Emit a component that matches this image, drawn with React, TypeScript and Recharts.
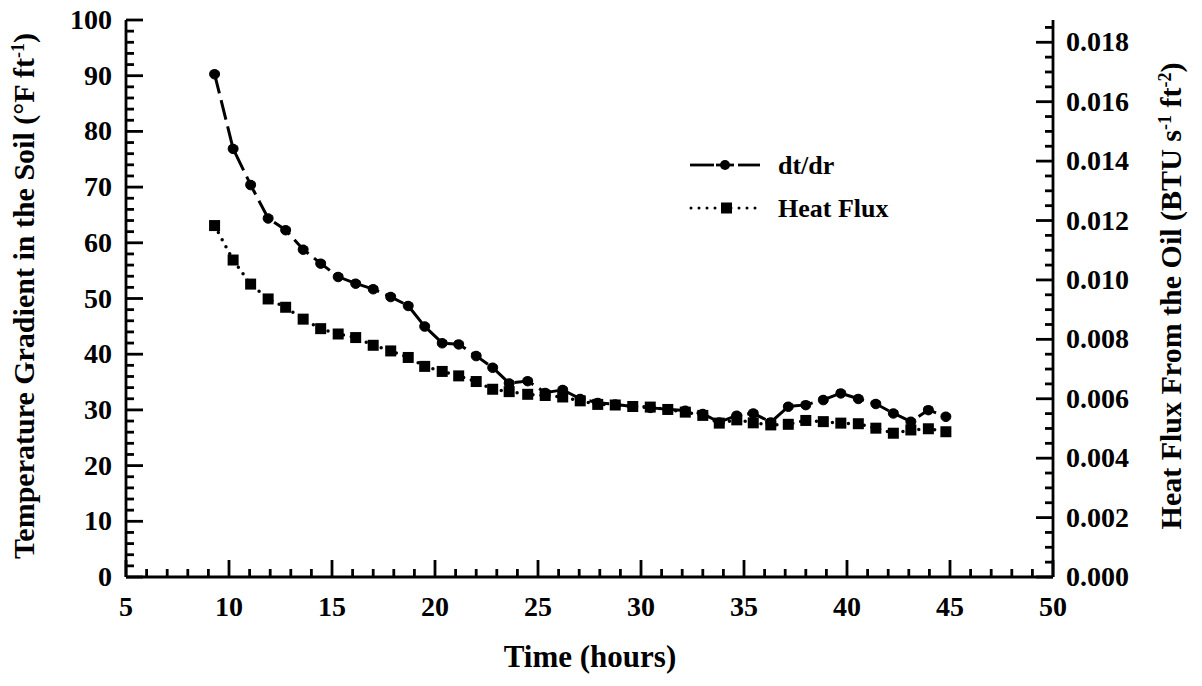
import React from 'react';
import { LineChart, Line, XAxis, YAxis, Legend } from 'recharts';

// Time (hours)
const times = [9.3, 10.2, 11.05, 11.9, 12.75, 13.6, 14.45, 15.3, 16.15, 17.0, 17.85, 18.7, 19.5, 20.35, 21.15, 22.0, 22.8, 23.6, 24.5, 25.35, 26.2, 27.05, 27.9, 28.75, 29.6, 30.45, 31.3, 32.15, 33.0, 33.8, 34.65, 35.45, 36.3, 37.15, 38.0, 38.85, 39.7, 40.55, 41.4, 42.25, 43.1, 43.95, 44.8];
// Temperature gradient dt/dr (°F ft-1), left axis
const dtdr = [90.3, 76.9, 70.4, 64.4, 62.3, 58.8, 56.3, 53.9, 52.7, 51.7, 50.3, 48.7, 45.0, 42.0, 41.8, 39.7, 37.6, 34.8, 35.2, 33.1, 33.6, 32.0, 31.3, 31.0, 30.6, 30.4, 30.1, 29.9, 29.3, 27.8, 29.0, 29.4, 27.8, 30.6, 30.9, 31.8, 33.0, 32.0, 31.1, 29.4, 27.9, 30.0, 28.8];
// Heat flux (BTU s-1 ft-2), right axis
const heatFlux = [0.01183, 0.01067, 0.00986, 0.00936, 0.00908, 0.00868, 0.00836, 0.00818, 0.00806, 0.0078, 0.00761, 0.00739, 0.00709, 0.00692, 0.00677, 0.00658, 0.00632, 0.00624, 0.00615, 0.00611, 0.00606, 0.00593, 0.00581, 0.00579, 0.00574, 0.00572, 0.00564, 0.00555, 0.00544, 0.00518, 0.00529, 0.00519, 0.00512, 0.00514, 0.00527, 0.00523, 0.00518, 0.00516, 0.00501, 0.00484, 0.00495, 0.00499, 0.00489];

const xMajor = [5, 10, 15, 20, 25, 30, 35, 40, 45, 50];
const leftMajor = [0, 10, 20, 30, 40, 50, 60, 70, 80, 90, 100];
const rightMajorLabels = ['0.000', '0.002', '0.004', '0.006', '0.008', '0.010', '0.012', '0.014', '0.016', '0.018'];

const data = times.map((t, i) => ({ t, dtdr: dtdr[i], hf: heatFlux[i] }));

const xAll: number[] = [];
for (let v = 5; v <= 50; v += 1) xAll.push(v);
const leftAll: number[] = [];
for (let v = 0; v <= 100; v += 2) leftAll.push(v);
const rightAll: number[] = [];
for (let i = 0; i <= 37; i++) rightAll.push(+(i * 0.0005).toFixed(4));

const FONT = '"Liberation Serif", "Times New Roman", serif';
const TICK_FS = 28;
const TITLE_FS = 30;
const MAJOR = 17;
const MINOR = 8;
const SW = 2.8;

const isMultiple = (v: number, step: number) => Math.abs(v / step - Math.round(v / step)) < 1e-6;

const BottomTick = (props: any) => {
  const { x, y, payload } = props;
  const major = isMultiple(payload.value, 5);
  return (
    <g>
      <line x1={x} x2={x} y1={y} y2={y - (major ? MAJOR : MINOR)} stroke="#000" strokeWidth={SW} />
      {major && (
        <text x={x} y={y + 39} textAnchor="middle" fontFamily={FONT} fontWeight="bold" fontSize={TICK_FS} fill="#000">
          {payload.value}
        </text>
      )}
    </g>
  );
};

const TopTick = (props: any) => {
  const { x, y, payload } = props;
  const major = isMultiple(payload.value, 5);
  return <line x1={x} x2={x} y1={y} y2={y + (major ? MAJOR : MINOR)} stroke="#000" strokeWidth={SW} />;
};

const LeftTick = (props: any) => {
  const { x, y, payload } = props;
  const major = isMultiple(payload.value, 10);
  return (
    <g>
      <line x1={x} x2={x + (major ? MAJOR : MINOR)} y1={y} y2={y} stroke="#000" strokeWidth={SW} />
      {major && (
        <text x={x - 14} y={y + 9} textAnchor="end" fontFamily={FONT} fontWeight="bold" fontSize={TICK_FS} fill="#000">
          {payload.value}
        </text>
      )}
    </g>
  );
};

const RightTick = (props: any) => {
  const { x, y, payload } = props;
  const major = isMultiple(payload.value, 0.002);
  const idx = Math.round(payload.value / 0.002);
  return (
    <g>
      <line x1={x} x2={x - (major ? MAJOR : MINOR)} y1={y} y2={y} stroke="#000" strokeWidth={SW} />
      {major && (
        <text x={x + 13} y={y + 9} textAnchor="start" fontFamily={FONT} fontWeight="bold" fontSize={TICK_FS} fill="#000">
          {rightMajorLabels[idx]}
        </text>
      )}
    </g>
  );
};

const SquareDot = (props: any) => {
  const { cx, cy } = props;
  if (cx == null || cy == null) return null;
  return <rect x={cx - 5.5} y={cy - 5.5} width={11} height={11} fill="#000" />;
};

const LegendContent = () => (
  <svg width={280} height={80}>
    <line x1={10} x2={34} y1={15} y2={15} stroke="#000" strokeWidth={2.8} />
    <line x1={36} x2={54} y1={15} y2={15} stroke="#000" strokeWidth={2.8} />
    <circle cx={45} cy={15} r={5} fill="#000" />
    <line x1={58} x2={80} y1={15} y2={15} stroke="#000" strokeWidth={2.8} />
    <text x={98} y={24} fontFamily={FONT} fontWeight="bold" fontSize={26} fill="#000">dt/dr</text>
    <line x1={11} x2={80} y1={58} y2={58} stroke="#000" strokeWidth={3} strokeDasharray="0 8" strokeLinecap="round" />
    <rect x={41} y={52.5} width={11} height={11} fill="#000" />
    <text x={98} y={67} fontFamily={FONT} fontWeight="bold" fontSize={26} fill="#000">Heat Flux</text>
  </svg>
);

const LeftTitle = () => {
  const cx = 34;
  const cy = 296;
  return (
    <text x={cx} y={cy} transform={`rotate(-90, ${cx}, ${cy})`} textAnchor="middle" fontFamily={FONT} fontWeight="bold" fontSize={TITLE_FS} fill="#000">
      Temperature Gradient in the Soil (°F ft<tspan dy={-10} fontSize={18}>-1</tspan><tspan dy={10}>)</tspan>
    </text>
  );
};

const RightTitle = () => {
  const cx = 1181;
  const cy = 296;
  return (
    <text x={cx} y={cy} transform={`rotate(-90, ${cx}, ${cy})`} textAnchor="middle" fontFamily={FONT} fontWeight="bold" fontSize={TITLE_FS} fill="#000">
      Heat Flux From the Oil (BTU s<tspan dy={-10} fontSize={18}>-1</tspan><tspan dy={10}> ft</tspan><tspan dy={-10} fontSize={18}>-2</tspan><tspan dy={10}>)</tspan>
    </text>
  );
};

const BottomTitle = () => (
  <text x={590} y={667} textAnchor="middle" fontFamily={FONT} fontWeight="bold" fontSize={31} fill="#000">
    Time (hours)
  </text>
);

export default function App() {
  return (
    <div style={{ position: 'absolute', left: 0, top: 0, width: 1202, height: 686, background: '#fff' }}>
      <LineChart width={1202} height={686} data={data} margin={{ top: 20, right: 0, bottom: 0, left: 0 }}>
        <XAxis
          dataKey="t"
          type="number"
          domain={[5, 50]}
          ticks={xAll}
          interval={0}
          tickLine={false}
          tickSize={0}
          tickMargin={0}
          tick={(p: any) => <BottomTick {...p} />}
          axisLine={{ stroke: '#000', strokeWidth: SW }}
          height={109}
          allowDataOverflow
          label={{ content: () => <BottomTitle /> }}
        />
        <XAxis
          xAxisId="top"
          orientation="top"
          dataKey="t"
          type="number"
          domain={[5, 50]}
          ticks={xAll}
          interval={0}
          tickLine={false}
          tickSize={0}
          tickMargin={0}
          tick={(p: any) => <TopTick {...p} />}
          axisLine={{ stroke: '#000', strokeWidth: SW }}
          height={0}
          allowDataOverflow
        />
        <YAxis
          yAxisId="left"
          orientation="left"
          type="number"
          domain={[0, 100]}
          ticks={leftAll}
          interval={0}
          tickLine={false}
          tickSize={0}
          tickMargin={0}
          tick={(p: any) => <LeftTick {...p} />}
          axisLine={{ stroke: '#000', strokeWidth: SW }}
          width={126}
          allowDataOverflow
          label={{ content: () => <LeftTitle /> }}
        />
        <YAxis
          yAxisId="right"
          orientation="right"
          type="number"
          domain={[0, 0.01875]}
          ticks={rightAll}
          interval={0}
          tickLine={false}
          tickSize={0}
          tickMargin={0}
          tick={(p: any) => <RightTick {...p} />}
          axisLine={{ stroke: '#000', strokeWidth: SW }}
          width={149}
          allowDataOverflow
          label={{ content: () => <RightTitle /> }}
        />
        <Line
          yAxisId="left"
          dataKey="dtdr"
          stroke="#000"
          strokeWidth={3}
          strokeDasharray="20 7"
          dot={{ r: 5, fill: '#000', stroke: '#000', strokeWidth: 1 }}
          isAnimationActive={false}
        />
        <Line
          yAxisId="right"
          dataKey="hf"
          stroke="#000"
          strokeWidth={3.5}
          strokeDasharray="0 8"
          strokeLinecap="round"
          dot={(p: any) => <SquareDot key={`sq-${p.index}`} {...p} />}
          isAnimationActive={false}
        />
        <Legend
          layout="vertical"
          align="center"
          verticalAlign="middle"
          content={() => <LegendContent />}
          wrapperStyle={{ position: 'absolute', left: 680, top: 150, width: 280, height: 80 }}
        />
      </LineChart>
    </div>
  );
}
